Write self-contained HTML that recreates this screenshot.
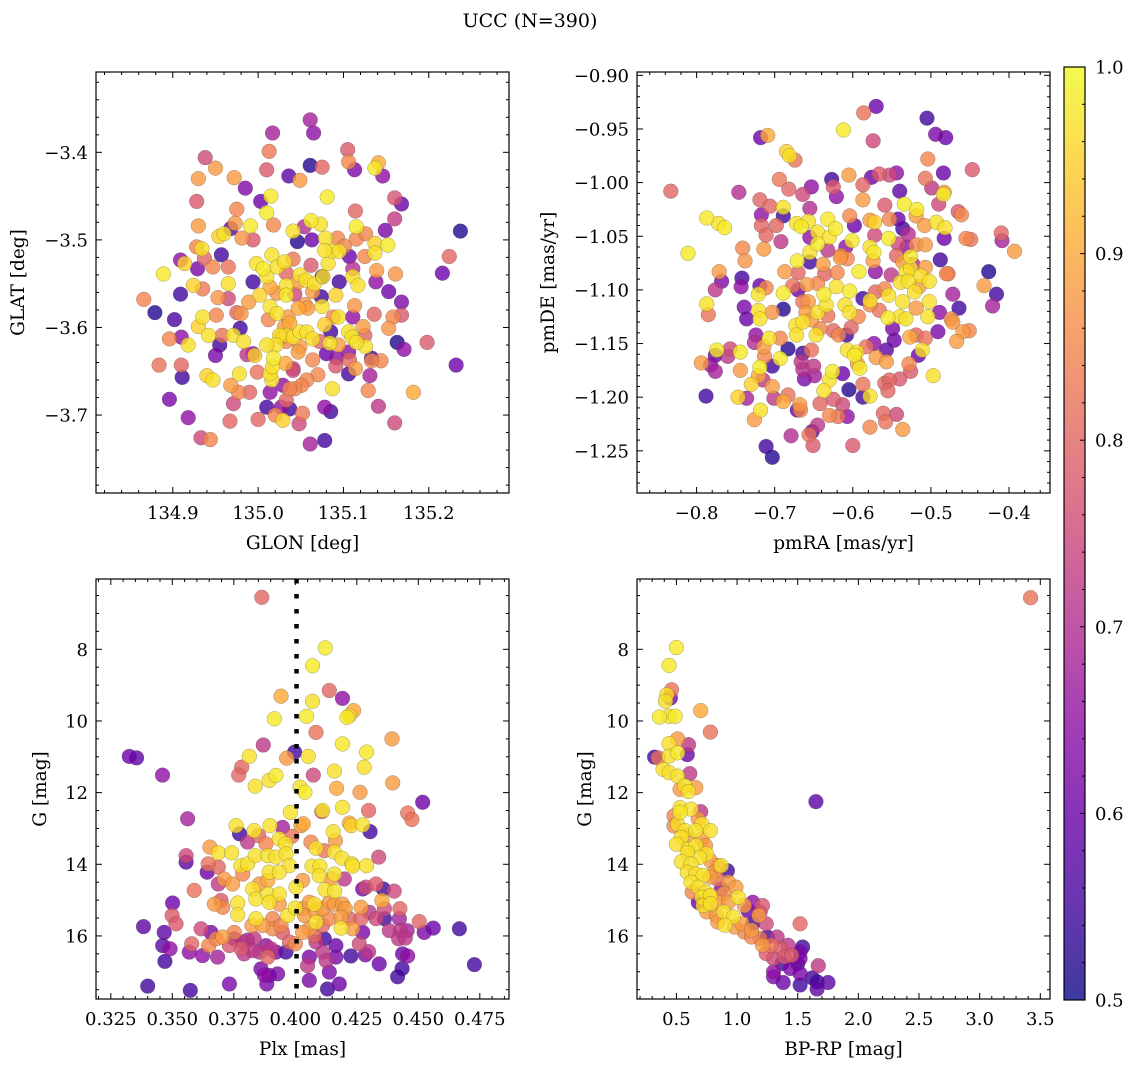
<!DOCTYPE html>
<html><head><meta charset="utf-8">
<style>
html,body{margin:0;padding:0;background:#fff;}
svg{display:block;font-family:"DejaVu Serif","Liberation Serif",serif;}
</style></head>
<body>
<svg id="fig" width="1136" height="1067" viewBox="0 0 1136 1067" xmlns="http://www.w3.org/2000/svg">
<rect width="1136" height="1067" fill="#fff"/>
<text x="530" y="27" font-size="19" text-anchor="middle">UCC (N=390)</text>
</svg>
<script>
// ---------- Panel 1: GLON / GLAT ----------
const glon = [135.061,135.065,135.017,134.938,135.013,135.061,135.075,135.105,135.106,135.113,135.141,135.137,135.146,134.930,134.950,134.972,134.985,135.010,135.036,135.049,135.015,135.081,135.003,134.928,134.975,135.010,135.160,135.168,135.114,135.160,134.930,134.968,134.973,134.991,135.018,134.954,134.960,134.981,134.994,135.041,135.046,135.054,135.062,135.073,135.063,135.079,135.093,135.101,135.115,135.115,135.126,135.137,135.152,135.149,135.237,135.224,135.216,134.909,134.914,134.928,134.934,134.937,134.929,134.957,134.947,134.965,134.889,134.909,134.866,134.879,134.902,134.924,134.935,134.965,134.953,134.965,134.930,134.935,134.951,134.942,134.910,134.896,134.918,134.955,134.958,134.971,134.975,134.983,134.987,134.996,134.979,134.989,134.994,134.998,135.006,135.016,135.010,135.014,135.002,135.014,135.022,135.012,135.022,135.022,135.031,135.041,135.033,135.033,135.047,135.049,135.056,135.062,135.066,135.075,135.064,135.074,135.033,135.043,135.055,135.058,135.047,135.035,135.031,135.037,135.033,135.041,135.049,135.057,135.064,135.049,135.047,135.033,135.025,135.021,135.010,135.018,135.027,135.032,135.041,135.075,135.078,135.088,135.094,135.085,135.072,135.084,135.094,135.106,135.110,135.111,135.113,135.111,135.117,135.111,135.095,135.091,135.076,135.082,135.087,135.078,135.095,135.107,135.125,135.137,135.139,135.138,135.161,135.153,135.168,135.136,135.158,135.168,135.153,135.123,135.125,135.126,135.115,135.106,135.107,135.114,135.133,135.144,135.133,135.163,135.171,135.198,135.232,135.182,135.160,135.141,135.129,135.131,135.106,135.091,135.092,135.080,135.087,135.078,135.085,135.078,135.061,135.070,135.064,135.057,135.051,135.043,135.037,135.041,135.029,135.033,135.027,135.037,135.020,135.029,135.048,135.052,135.010,135.000,135.014,135.016,135.014,135.017,134.999,134.990,134.977,134.978,134.968,134.971,134.967,134.940,134.947,134.950,134.910,134.884,134.911,134.896,134.918,134.933,134.944,134.994,134.980];
const glat = [-3.363,-3.378,-3.378,-3.406,-3.399,-3.415,-3.417,-3.397,-3.411,-3.420,-3.412,-3.418,-3.427,-3.430,-3.418,-3.429,-3.441,-3.420,-3.427,-3.432,-3.450,-3.451,-3.456,-3.456,-3.465,-3.469,-3.452,-3.459,-3.467,-3.476,-3.484,-3.487,-3.481,-3.484,-3.483,-3.496,-3.493,-3.498,-3.500,-3.490,-3.502,-3.485,-3.478,-3.482,-3.500,-3.498,-3.498,-3.507,-3.499,-3.485,-3.493,-3.504,-3.506,-3.489,-3.490,-3.519,-3.538,-3.523,-3.527,-3.508,-3.510,-3.521,-3.533,-3.517,-3.531,-3.531,-3.539,-3.562,-3.568,-3.583,-3.591,-3.552,-3.556,-3.550,-3.566,-3.567,-3.599,-3.588,-3.586,-3.609,-3.611,-3.613,-3.620,-3.620,-3.609,-3.609,-3.583,-3.616,-3.631,-3.632,-3.601,-3.571,-3.548,-3.527,-3.533,-3.517,-3.542,-3.554,-3.563,-3.576,-3.584,-3.591,-3.561,-3.531,-3.525,-3.522,-3.538,-3.552,-3.548,-3.540,-3.546,-3.529,-3.550,-3.542,-3.559,-3.565,-3.563,-3.562,-3.574,-3.578,-3.578,-3.588,-3.599,-3.595,-3.609,-3.611,-3.605,-3.605,-3.613,-3.622,-3.628,-3.616,-3.609,-3.620,-3.620,-3.635,-3.611,-3.641,-3.647,-3.576,-3.597,-3.588,-3.588,-3.605,-3.616,-3.618,-3.620,-3.605,-3.611,-3.588,-3.575,-3.542,-3.552,-3.533,-3.548,-3.563,-3.542,-3.527,-3.513,-3.512,-3.513,-3.519,-3.519,-3.515,-3.535,-3.548,-3.539,-3.559,-3.571,-3.585,-3.588,-3.586,-3.601,-3.599,-3.609,-3.622,-3.617,-3.628,-3.637,-3.647,-3.635,-3.638,-3.638,-3.617,-3.625,-3.617,-3.643,-3.674,-3.709,-3.690,-3.672,-3.655,-3.653,-3.644,-3.635,-3.630,-3.670,-3.691,-3.696,-3.729,-3.733,-3.654,-3.637,-3.660,-3.666,-3.670,-3.670,-3.649,-3.666,-3.683,-3.691,-3.693,-3.700,-3.706,-3.710,-3.698,-3.691,-3.705,-3.674,-3.660,-3.653,-3.645,-3.651,-3.674,-3.674,-3.653,-3.666,-3.687,-3.707,-3.655,-3.660,-3.632,-3.643,-3.643,-3.657,-3.682,-3.703,-3.726,-3.728,-3.630,-3.584];
const prob1 = [.68,.65,.68,.75,.83,.52,.80,.78,.85,.62,.9,.98,.65,.88,.88,.88,.63,.78,.58,.88,.98,.98,.6,.78,.85,.98,.77,.6,.8,.73,.88,.58,.88,.98,.85,.95,.97,.87,.78,.97,.52,.7,.98,.97,.6,.97,.85,.85,.85,.98,.85,.95,.98,.62,.52,.8,.6,.65,.95,.85,.97,.8,.62,.55,.85,.82,.98,.55,.85,.52,.56,.95,.83,.97,.87,.75,.95,.97,.85,.97,.65,.85,.97,.55,.82,.97,.8,.97,.72,.95,.55,.88,.55,.97,.98,.97,.97,.9,.95,.97,.97,.85,.87,.97,.97,.83,.8,.97,.88,.97,.97,.78,.97,.55,.88,.55,.98,.75,.87,.88,.9,.88,.88,.9,.97,.97,.97,.97,.97,.88,.88,.85,.97,.97,.97,.98,.85,.9,.75,.97,.95,.85,.97,.55,.8,.97,.88,.97,.97,.65,.87,.97,.97,.7,.55,.95,.97,.97,.97,.97,.97,.6,.85,.97,.88,.65,.87,.6,.62,.8,.85,.78,.87,.88,.8,.97,.97,.65,.8,.88,.55,.85,.85,.52,.65,.78,.6,.9,.75,.72,.85,.68,.55,.78,.65,.6,.97,.65,.55,.55,.68,.85,.85,.85,.85,.85,.85,.75,.65,.8,.65,.55,.85,.95,.75,.83,.55,.8,.65,.97,.97,.97,.82,.8,.85,.97,.88,.75,.8,.95,.97,.62,.8,.82,.55,.62,.65,.75,.85,.65,.87];

// ---------- Panel 2: pmRA / pmDE ----------
const pmra = [-0.570,-0.586,-0.505,-0.612,-0.494,-0.481,-0.718,-0.709,-0.574,-0.685,-0.681,-0.674,-0.504,-0.447,-0.484,-0.694,-0.605,-0.576,-0.566,-0.553,-0.544,-0.627,-0.625,-0.653,-0.587,-0.507,-0.499,-0.483,-0.484,-0.540,-0.833,-0.746,-0.682,-0.664,-0.621,-0.719,-0.706,-0.689,-0.655,-0.587,-0.559,-0.534,-0.518,-0.490,-0.465,-0.461,-0.717,-0.689,-0.787,-0.772,-0.764,-0.717,-0.698,-0.672,-0.666,-0.657,-0.632,-0.604,-0.598,-0.578,-0.572,-0.553,-0.542,-0.519,-0.493,-0.482,-0.508,-0.536,-0.529,-0.622,-0.645,-0.630,-0.655,-0.711,-0.692,-0.811,-0.741,-0.714,-0.645,-0.632,-0.615,-0.601,-0.609,-0.572,-0.578,-0.554,-0.542,-0.531,-0.519,-0.507,-0.483,-0.455,-0.449,-0.410,-0.409,-0.393,-0.738,-0.671,-0.655,-0.655,-0.638,-0.616,-0.607,-0.574,-0.573,-0.544,-0.526,-0.536,-0.523,-0.507,-0.488,-0.771,-0.768,-0.776,-0.742,-0.743,-0.687,-0.670,-0.636,-0.620,-0.592,-0.571,-0.551,-0.532,-0.526,-0.513,-0.502,-0.480,-0.478,-0.426,-0.432,-0.416,-0.421,-0.719,-0.711,-0.721,-0.689,-0.677,-0.670,-0.659,-0.645,-0.637,-0.621,-0.604,-0.587,-0.578,-0.571,-0.559,-0.554,-0.539,-0.529,-0.521,-0.515,-0.502,-0.472,-0.464,-0.787,-0.785,-0.739,-0.736,-0.721,-0.719,-0.703,-0.689,-0.664,-0.657,-0.645,-0.634,-0.660,-0.610,-0.604,-0.593,-0.578,-0.566,-0.555,-0.540,-0.532,-0.536,-0.519,-0.504,-0.489,-0.474,-0.472,-0.673,-0.664,-0.653,-0.642,-0.632,-0.625,-0.618,-0.602,-0.647,-0.672,-0.608,-0.549,-0.491,-0.459,-0.451,-0.467,-0.507,-0.519,-0.527,-0.724,-0.726,-0.707,-0.693,-0.547,-0.573,-0.583,-0.607,-0.598,-0.595,-0.557,-0.511,-0.516,-0.774,-0.757,-0.744,-0.776,-0.760,-0.714,-0.683,-0.664,-0.653,-0.713,-0.693,-0.794,-0.782,-0.776,-0.744,-0.719,-0.703,-0.666,-0.650,-0.664,-0.626,-0.613,-0.594,-0.591,-0.570,-0.557,-0.528,-0.526,-0.497,-0.721,-0.715,-0.730,-0.703,-0.662,-0.649,-0.630,-0.637,-0.605,-0.587,-0.559,-0.553,-0.540,-0.555,-0.788,-0.747,-0.736,-0.701,-0.689,-0.683,-0.718,-0.726,-0.671,-0.668,-0.667,-0.642,-0.625,-0.613,-0.587,-0.578,-0.630,-0.619,-0.607,-0.561,-0.544,-0.578,-0.558,-0.536,-0.645,-0.652,-0.679,-0.656,-0.651,-0.600,-0.711,-0.703];
const pmde = [-0.929,-0.935,-0.940,-0.951,-0.955,-0.958,-0.958,-0.956,-0.961,-0.971,-0.975,-0.979,-0.978,-0.988,-0.991,-0.997,-0.993,-0.995,-0.992,-0.993,-0.991,-0.997,-1.004,-1.004,-1.002,-0.996,-1.005,-1.009,-1.011,-1.008,-1.008,-1.009,-1.006,-1.011,-1.013,-1.016,-1.022,-1.023,-1.024,-1.016,-1.021,-1.020,-1.025,-1.020,-1.027,-1.030,-1.030,-1.031,-1.033,-1.038,-1.042,-1.040,-1.040,-1.038,-1.041,-1.036,-1.034,-1.031,-1.040,-1.035,-1.037,-1.034,-1.034,-1.031,-1.037,-1.042,-1.040,-1.043,-1.048,-1.043,-1.046,-1.051,-1.051,-1.049,-1.055,-1.066,-1.061,-1.062,-1.057,-1.063,-1.068,-1.054,-1.060,-1.049,-1.060,-1.052,-1.057,-1.060,-1.058,-1.058,-1.052,-1.052,-1.053,-1.047,-1.054,-1.064,-1.073,-1.073,-1.074,-1.065,-1.076,-1.070,-1.071,-1.073,-1.065,-1.068,-1.069,-1.074,-1.076,-1.079,-1.072,-1.083,-1.092,-1.100,-1.089,-1.097,-1.083,-1.084,-1.085,-1.084,-1.083,-1.083,-1.086,-1.083,-1.080,-1.087,-1.092,-1.085,-1.085,-1.083,-1.096,-1.104,-1.115,-1.096,-1.098,-1.104,-1.103,-1.096,-1.100,-1.095,-1.094,-1.104,-1.097,-1.101,-1.108,-1.110,-1.102,-1.099,-1.105,-1.093,-1.092,-1.102,-1.097,-1.111,-1.104,-1.117,-1.113,-1.123,-1.116,-1.127,-1.119,-1.127,-1.121,-1.118,-1.111,-1.111,-1.121,-1.114,-1.121,-1.114,-1.121,-1.125,-1.114,-1.119,-1.126,-1.125,-1.127,-1.111,-1.117,-1.125,-1.121,-1.127,-1.130,-1.133,-1.130,-1.128,-1.136,-1.124,-1.138,-1.142,-1.135,-1.142,-1.142,-1.142,-1.136,-1.139,-1.139,-1.138,-1.148,-1.145,-1.142,-1.144,-1.142,-1.149,-1.145,-1.145,-1.147,-1.150,-1.153,-1.156,-1.161,-1.158,-1.156,-1.156,-1.161,-1.156,-1.155,-1.158,-1.161,-1.162,-1.153,-1.155,-1.159,-1.156,-1.162,-1.164,-1.168,-1.170,-1.176,-1.175,-1.172,-1.171,-1.167,-1.171,-1.174,-1.176,-1.178,-1.169,-1.173,-1.163,-1.167,-1.169,-1.176,-1.180,-1.180,-1.184,-1.188,-1.190,-1.183,-1.180,-1.184,-1.194,-1.193,-1.188,-1.187,-1.184,-1.183,-1.194,-1.199,-1.200,-1.201,-1.201,-1.204,-1.198,-1.212,-1.221,-1.212,-1.207,-1.212,-1.206,-1.202,-1.207,-1.200,-1.199,-1.217,-1.218,-1.218,-1.215,-1.216,-1.228,-1.223,-1.230,-1.226,-1.232,-1.236,-1.235,-1.245,-1.245,-1.246,-1.256];
const prob2 = [.6,.82,.55,.98,.62,.6,.6,.9,.75,.95,.97,.82,.85,.78,.6,.83,.88,.6,.78,.75,.65,.55,.78,.65,.8,.82,.72,.88,.98,.58,.8,.7,.8,.75,.65,.8,.8,.97,.7,.88,.78,.98,.98,.75,.78,.85,.65,.55,.98,.97,.98,.8,.8,.97,.98,.97,.98,.85,.6,.88,.95,.85,.6,.88,.97,.97,.88,.55,.7,.98,.97,.97,.65,.8,.72,.98,.85,.88,.98,.72,.85,.98,.65,.75,.97,.98,.75,.65,.85,.88,.6,.85,.82,.8,.68,.88,.87,.98,.55,.97,.88,.88,.85,.88,.98,.8,.98,.88,.7,.88,.55,.88,.62,.72,.55,.65,.88,.8,.8,.85,.98,.65,.72,.97,.97,.97,.97,.85,.83,.52,.88,.55,.68,.6,.85,.97,.98,.82,.6,.88,.85,.98,.97,.98,.55,.97,.8,.85,.97,.97,.97,.97,.88,.97,.68,.55,.97,.82,.62,.6,.97,.97,.87,.52,.82,.88,.97,.97,.88,.97,.97,.85,.85,.82,.98,.97,.97,.97,.88,.97,.65,.85,.88,.97,.97,.88,.85,.82,.8,.85,.8,.97,.97,.55,.62,.62,.88,.85,.88,.82,.8,.9,.65,.7,.97,.85,.6,.65,.82,.97,.98,.97,.58,.97,.6,.98,.75,.98,.6,.72,.88,.52,.55,.82,.85,.98,.88,.65,.68,.88,.98,.55,.72,.72,.7,.98,.6,.88,.98,.88,.88,.85,.78,.97,.9,.72,.95,.88,.62,.68,.97,.97,.52,.82,.8,.8,.78,.8,.55,.95,.68,.72,.9,.82,.97,.88,.6,.88,.85,.8,.78,.75,.55,.97,.85,.82,.65,.8,.75,.85,.82,.88,.72,.6,.7,.82,.78,.78,.55,.52];

// ---------- Panel 3: Plx / G ----------
const plx = [0.3864,0.4122,0.4070,0.4138,0.3942,0.4192,0.4070,0.4237,0.4220,0.4210,0.3915,0.4046,0.4084,0.4393,0.4192,0.3870,0.3997,0.3965,0.3813,0.4053,0.4290,0.3325,0.3355,0.3460,0.3782,0.3770,0.3894,0.3921,0.3837,0.4073,0.4159,0.4280,0.4019,0.4039,0.4168,0.4263,0.4396,0.4518,0.4108,0.4111,0.4192,0.4298,0.4457,0.4474,0.3980,0.4033,0.3562,0.4220,0.4274,0.4227,0.4304,0.3759,0.3833,0.3897,0.3948,0.3773,0.3806,0.3851,0.3881,0.3935,0.3960,0.3986,0.4023,0.4064,0.4084,0.4118,0.4154,0.4163,0.4159,0.4190,0.4230,0.4290,0.4339,0.3653,0.3687,0.3741,0.3556,0.3556,0.3646,0.3642,0.3687,0.3779,0.3806,0.3786,0.3837,0.3888,0.3921,0.3962,0.3976,0.3894,0.3935,0.3888,0.3854,0.3711,0.3745,0.3687,0.3589,0.4068,0.4100,0.4097,0.4145,0.4159,0.4199,0.4233,0.4030,0.4003,0.3827,0.3840,0.3888,0.3935,0.3894,0.3935,0.4121,0.4160,0.4274,0.4287,0.4328,0.4358,0.4402,0.4352,0.3766,0.3766,0.3671,0.3698,0.3705,0.3501,0.3499,0.3515,0.3383,0.3467,0.3461,0.3491,0.3470,0.3400,0.3573,0.3732,0.3579,0.3569,0.3617,0.3623,0.3684,0.3648,0.3678,0.3705,0.3657,0.3752,0.3752,0.3786,0.3806,0.3779,0.3792,0.3824,0.3840,0.3867,0.3908,0.3908,0.3942,0.3948,0.3969,0.3833,0.3854,0.3881,0.3901,0.3888,0.3921,0.3962,0.3976,0.4000,0.3860,0.3874,0.3894,0.3884,0.3928,0.4000,0.4030,0.4037,0.4057,0.4077,0.4084,0.4111,0.4138,0.4159,0.4192,0.4203,0.4186,0.4138,0.4084,0.4057,0.4030,0.4077,0.4111,0.4186,0.4233,0.4220,0.4267,0.4267,0.4301,0.4328,0.4362,0.4362,0.4425,0.4504,0.4423,0.4382,0.4428,0.4455,0.4420,0.4447,0.4524,0.4561,0.4667,0.4728,0.4436,0.4457,0.4434,0.4416,0.4341,0.4285,0.4298,0.4260,0.4274,0.4226,0.4165,0.4165,0.4138,0.4179,0.4131,0.4057,0.4111,0.4125,0.4057,0.4050,0.4084,0.4118,0.3827,0.3732];
const gmag3 = [6.55,7.96,8.46,9.15,9.31,9.37,9.45,9.71,9.85,9.90,9.94,9.87,10.32,10.50,10.64,10.67,10.87,11.04,10.99,10.99,10.87,10.99,11.03,11.51,11.29,11.51,11.66,11.52,11.82,11.51,11.40,11.29,11.85,11.99,11.88,11.99,11.73,12.27,12.53,12.50,12.41,12.50,12.57,12.75,12.55,12.87,12.73,12.85,12.90,12.92,13.09,12.92,13.06,12.92,12.97,13.15,13.38,13.20,13.43,13.29,13.43,13.22,12.92,13.38,13.55,13.62,13.09,13.34,13.66,13.83,13.99,14.04,13.80,13.52,13.68,13.68,13.76,13.94,13.99,14.22,14.08,14.04,13.99,14.27,13.76,13.76,13.80,13.71,14.04,14.22,14.22,14.45,14.55,14.41,14.55,14.55,14.73,14.05,14.05,14.32,14.41,14.27,14.41,14.05,14.45,14.64,14.69,14.97,14.83,14.83,15.06,15.11,14.71,14.75,14.69,14.64,14.55,14.69,14.75,15.01,15.08,15.41,15.11,15.01,15.20,15.08,15.43,15.66,15.74,15.90,16.27,16.36,16.71,17.40,17.52,17.34,16.22,16.45,15.80,16.55,16.59,16.27,16.08,16.03,15.90,15.90,16.08,16.17,16.12,16.36,16.50,15.71,15.52,15.71,15.52,15.80,15.71,15.90,15.43,16.08,16.45,16.27,16.36,16.59,16.45,16.45,16.17,16.22,16.92,17.09,17.10,17.34,17.06,15.22,15.24,15.43,15.06,15.11,15.34,15.24,15.06,15.11,15.11,15.24,15.48,15.52,15.62,15.80,15.90,15.99,15.71,15.78,15.80,15.52,15.20,15.52,15.34,15.52,15.52,15.24,15.24,15.60,15.52,15.85,15.85,15.85,16.08,16.06,15.90,15.78,15.80,16.80,16.50,16.56,16.91,17.14,16.78,16.53,16.44,16.22,15.90,16.56,16.27,16.59,17.01,17.34,17.48,17.24,16.45,16.69,16.59,16.83,16.17,16.08,16.41,16.27];
const prob3 = [.8,.98,.98,.8,.9,.65,.97,.9,.95,.98,.98,.98,.82,.88,.98,.72,.55,.88,.97,.97,.98,.6,.58,.65,.8,.8,.97,.98,.97,.75,.97,.97,.97,.98,.9,.88,.88,.6,.75,.98,.97,.8,.82,.82,.97,.9,.68,.9,.97,.95,.55,.97,.97,.97,.68,.55,.72,.8,.85,.97,.97,.82,.88,.85,.97,.82,.97,.88,.97,.97,.97,.97,.75,.88,.97,.97,.75,.58,.82,.6,.8,.97,.97,.85,.97,.97,.97,.97,.97,.97,.97,.9,.88,.88,.88,.72,.82,.97,.97,.97,.88,.97,.72,.97,.88,.97,.97,.97,.97,.97,.97,.88,.97,.97,.62,.75,.78,.55,.75,.9,.97,.97,.88,.78,.85,.6,.78,.78,.58,.58,.58,.65,.55,.55,.55,.62,.8,.65,.75,.65,.68,.85,.85,.88,.62,.85,.6,.72,.68,.78,.72,.88,.97,.88,.85,.85,.85,.78,.97,.72,.72,.65,.72,.8,.62,.55,.8,.85,.62,.65,.62,.62,.62,.97,.88,.88,.88,.97,.88,.88,.88,.88,.88,.88,.88,.85,.97,.88,.88,.8,.8,.97,.88,.8,.88,.8,.72,.75,.55,.75,.8,.8,.68,.72,.72,.68,.72,.72,.62,.6,.55,.55,.6,.65,.55,.55,.6,.62,.72,.75,.62,.55,.6,.62,.62,.6,.55,.62,.72,.72,.62,.72,.72,.55,.72,.78];

// ---------- Panel 4: BP-RP / G ----------
const bprp = [0.50,0.44,0.46,0.42,0.45,0.41,0.36,0.44,0.49,0.70,0.78,0.51,0.44,0.60,0.59,0.51,0.44,0.32,0.35,0.39,0.44,0.61,0.51,0.53,0.57,0.60,0.66,1.65,0.70,0.53,0.62,0.48,0.53,0.68,0.48,0.51,0.71,0.78,0.57,0.66,0.54,0.59,0.71,0.50,0.60,0.66,0.74,0.75,0.69,0.59,0.54,0.62,0.78,0.87,0.92,0.81,0.84,0.59,0.66,0.72,0.78,0.84,0.93,0.99,0.62,0.68,0.63,0.74,0.87,0.89,0.71,0.78,1.01,0.68,0.72,0.78,0.84,0.93,1.06,1.13,1.21,1.09,0.75,0.83,0.89,0.97,0.84,0.90,0.98,1.04,1.12,1.18,1.19,1.24,1.52,1.13,1.06,1.12,1.19,1.21,1.25,1.33,1.28,1.36,1.42,1.54,1.52,1.24,1.30,1.39,1.45,1.52,1.37,1.44,1.50,1.30,1.30,1.38,1.52,1.52,1.62,1.66,1.75,1.66,1.67,3.42];
const gmag4 = [7.95,8.45,9.13,9.27,9.36,9.45,9.89,9.87,9.87,9.71,10.31,10.50,10.63,10.66,10.94,10.89,10.98,11.01,11.03,11.35,11.44,11.47,11.54,11.91,11.81,11.97,11.86,12.25,12.53,12.42,12.46,12.65,12.55,12.74,12.93,12.88,12.88,13.06,13.06,13.06,13.25,13.20,13.30,13.44,13.57,13.48,13.48,13.71,13.81,13.67,13.93,13.99,13.90,14.04,14.18,14.22,14.04,14.22,14.27,14.31,14.36,14.41,14.50,14.64,14.50,14.64,14.78,14.78,14.69,14.82,14.92,14.87,14.92,15.06,15.15,15.10,15.06,15.06,15.15,15.06,15.15,15.29,15.33,15.43,15.33,15.47,15.61,15.70,15.75,15.66,15.84,15.43,15.33,15.66,15.66,15.66,15.89,16.03,16.07,16.26,16.03,16.03,16.26,16.35,16.26,16.31,16.44,16.49,16.63,16.58,16.54,16.63,16.77,16.91,16.77,17.00,17.14,17.30,17.05,17.37,17.17,17.28,17.30,17.48,16.83,6.56];
const prob4 = [.98,.98,.82,.97,.62,.97,.98,.97,.98,.9,.82,.88,.97,.72,.6,.98,.97,.55,.82,.97,.97,.72,.97,.88,.97,.97,.88,.58,.72,.97,.97,.85,.98,.88,.85,.97,.97,.97,.97,.97,.97,.88,.88,.97,.97,.97,.88,.97,.97,.97,.97,.97,.88,.97,.55,.88,.82,.97,.97,.97,.88,.82,.88,.88,.97,.97,.85,.97,.65,.88,.97,.97,.97,.6,.97,.97,.88,.88,.88,.65,.78,.6,.88,.88,.97,.97,.88,.97,.88,.88,.88,.88,.72,.75,.8,.55,.85,.85,.82,.88,.55,.72,.82,.78,.72,.55,.62,.78,.75,.78,.78,.62,.55,.62,.55,.65,.62,.6,.62,.55,.55,.55,.58,.58,.72,.82];

// ---------- tick label arrays ----------
const p1XTicks = [134.9, 135.0, 135.1, 135.2];
const p1YTicks = [-3.4, -3.5, -3.6, -3.7];
const p2XTicks = [-0.8, -0.7, -0.6, -0.5, -0.4];
const p2YTicks = [-0.90, -0.95, -1.00, -1.05, -1.10, -1.15, -1.20, -1.25];
const p3XTicks = [0.325, 0.350, 0.375, 0.400, 0.425, 0.450, 0.475];
const gTicks = [8, 10, 12, 14, 16];
const p4XTicks = [0.5, 1.0, 1.5, 2.0, 2.5, 3.0, 3.5];
const cbTicks = [0.5, 0.6, 0.7, 0.8, 0.9, 1.0];
const plxMedian = [0.4005];

const NS = 'http://www.w3.org/2000/svg';
const svg = document.getElementById('fig');
const TICK_FS = 18, LABEL_FS = 18.5;
function mk(tag, attrs, parent) {
  const e = document.createElementNS(NS, tag);
  for (const k in attrs) e.setAttribute(k, attrs[k]);
  (parent || svg).appendChild(e);
  return e;
}
const PL = ['#0d0887','#41049d','#6a00a8','#8f0da4','#b12a90','#cc4778','#e16462','#f2844b','#fca636','#fcce25','#f0f921'];
function hex(h){return [parseInt(h.substr(1,2),16),parseInt(h.substr(3,2),16),parseInt(h.substr(5,2),16)];}
function plasma(v) {
  let t = (v - 0.5) / 0.5; t = Math.max(0, Math.min(1, t));
  const s = t * 10, i = Math.min(9, Math.floor(s)), f = s - i;
  const a = hex(PL[i]), b = hex(PL[i + 1]);
  return 'rgb(' + a.map((c, k) => Math.round(c + (b[k] - c) * f)).join(',') + ')';
}
function fmt(v, d) { const s = Math.abs(v).toFixed(d); return (v < 0 ? '\u2212' : '') + s; }

function panel(cfg) {
  const g = mk('g', {});
  
  
  const {l, t, r, b} = cfg;
  const sx = v => l + (v - cfg.x0) / (cfg.x1 - cfg.x0) * (r - l);
  const sy = v => t + (v - cfg.yt) / (cfg.yb - cfg.yt) * (b - t);
  const n = Math.min(cfg.xs.length, cfg.ys.length, cfg.cs.length);
  const idx = [];
  for (let i = 0; i < n; i++) idx.push(i);
  idx.sort((a, c) => cfg.cs[a] - cfg.cs[c]);
  const pg = mk('g', {}, g);
  
  
  idx.forEach(i => {
    const c = mk('circle', {cx: sx(cfg.xs[i]).toFixed(1), cy: sy(cfg.ys[i]).toFixed(1), r: 7.4, fill: plasma(cfg.cs[i]), 'fill-opacity': 0.8, stroke: '#444', 'stroke-width': 0.4, 'stroke-opacity': 0.6}, pg);
    
    
  });
  if (cfg.vline) {
    cfg.vline.forEach(v => {
      const ln = mk('line', {x1: sx(v), x2: sx(v), y1: t, y2: b, stroke: '#000', 'stroke-width': 4.5, 'stroke-dasharray': '4.5 10.5'}, g);
      
      
    });
  }
  const tg = mk('g', {stroke: '#000', 'stroke-width': 1}, g);
  function minor(a0, a1, step, majors, isX) {
    const k0 = Math.ceil(a0 / step - 1e-9), k1 = Math.floor(a1 / step + 1e-9);
    for (let k = k0; k <= k1; k++) {
      const v = k * step;
      if (majors.some(m => Math.abs(m - v) < step * 0.1)) continue;
      if (isX) { const x = sx(v); mk('line', {x1: x, x2: x, y1: b, y2: b - 3}, tg); mk('line', {x1: x, x2: x, y1: t, y2: t + 3}, tg); }
      else { const y = sy(v); mk('line', {x1: l, x2: l + 3, y1: y, y2: y}, tg); mk('line', {x1: r, x2: r - 3, y1: y, y2: y}, tg); }
    }
  }
  const ya = Math.min(cfg.yt, cfg.yb), yz = Math.max(cfg.yt, cfg.yb);
  minor(cfg.x0, cfg.x1, cfg.xminor, cfg.xticks, true);
  minor(ya, yz, cfg.yminor, cfg.yticks, false);
  cfg.xticks.forEach(v => {
    const x = sx(v);
    mk('line', {x1: x, x2: x, y1: b, y2: b - 6}, tg); mk('line', {x1: x, x2: x, y1: t, y2: t + 6}, tg);
    const tx = mk('text', {x: x, y: b + 26, 'font-size': TICK_FS, 'text-anchor': 'middle'}, g);
    tx.textContent = fmt(v, cfg.xdec);
    
    
  });
  cfg.yticks.forEach(v => {
    const y = sy(v);
    mk('line', {x1: l, x2: l + 6, y1: y, y2: y}, tg); mk('line', {x1: r, x2: r - 6, y1: y, y2: y}, tg);
    const ty = mk('text', {x: l - 8, y: y + 6.5, 'font-size': TICK_FS, 'text-anchor': 'end'}, g);
    ty.textContent = fmt(v, cfg.ydec);
    
    
  });
  const fr = mk('rect', {x: l, y: t, width: r - l, height: b - t, fill: 'none', stroke: '#000', 'stroke-width': 1.2}, g);
  
  
  const xl = mk('text', {x: (l + r) / 2, y: b + 56, 'font-size': LABEL_FS, 'text-anchor': 'middle'}, g);
  xl.textContent = cfg.xlabel;
  
  
  const yl = mk('text', {x: 0, y: 0, 'font-size': LABEL_FS, 'text-anchor': 'middle', transform: 'translate(' + cfg.ylx + ',' + ((t + b) / 2) + ') rotate(-90)'}, g);
  yl.textContent = cfg.ylabel;
  
  
}

panel({name: 'glon-glat-panel', l: 96, r: 509, t: 72, b: 493, x0: 134.810, x1: 135.294, yt: -3.3083, yb: -3.789,
  xs: glon, ys: glat, cs: prob1, xticks: p1XTicks, yticks: p1YTicks, xminor: 0.02, yminor: 0.02, xdec: 1, ydec: 1,
  xlabel: 'GLON [deg]', ylabel: 'GLAT [deg]', ylx: 24});
panel({name: 'pm-panel', l: 637, r: 1050, t: 72, b: 493, x0: -0.8763, x1: -0.3475, yt: -0.8969, yb: -1.2893,
  xs: pmra, ys: pmde, cs: prob2, xticks: p2XTicks, yticks: p2YTicks, xminor: 0.02, yminor: 0.01, xdec: 1, ydec: 2,
  xlabel: 'pmRA [mas/yr]', ylabel: 'pmDE [mas/yr]', ylx: 554});
panel({name: 'plx-panel', l: 96, r: 509, t: 579, b: 999, x0: 0.31898, x1: 0.48687, yt: 6.038, yb: 17.76,
  xs: plx, ys: gmag3, cs: prob3, xticks: p3XTicks, yticks: gTicks, xminor: 0.005, yminor: 0.5, xdec: 3, ydec: 0,
  xlabel: 'Plx [mas]', ylabel: 'G [mag]', ylx: 46, vline: plxMedian});
panel({name: 'cmd-panel', l: 637, r: 1050, t: 579, b: 999, x0: 0.175, x1: 3.58, yt: 6.038, yb: 17.76,
  xs: bprp, ys: gmag4, cs: prob4, xticks: p4XTicks, yticks: gTicks, xminor: 0.1, yminor: 0.5, xdec: 1, ydec: 0,
  xlabel: 'BP-RP [mag]', ylabel: 'G [mag]', ylx: 591});

// ---------- colorbar ----------
(function () {
  const l = 1064, r = 1085, t = 67, b = 1000;
  const defs = mk('defs', {});
  const lg = mk('linearGradient', {id: 'cbg', x1: 0, y1: 1, x2: 0, y2: 0}, defs);
  for (let i = 0; i <= 20; i++) mk('stop', {offset: (i / 20), 'stop-color': plasma(0.5 + i / 40)}, lg);
  const g = mk('g', {});
  
  
  mk('rect', {x: l, y: t, width: r - l, height: b - t, fill: 'url(#cbg)', 'fill-opacity': 0.8}, g);
  const sy = v => b - (v - 0.5) / 0.5 * (b - t);
  for (let k = 25; k <= 50; k++) {
    const v = k * 0.02; const y = sy(v);
    const maj = cbTicks.some(m => Math.abs(m - v) < 0.001);
    mk('line', {x1: r, x2: r - (maj ? 5 : 3), y1: y, y2: y, stroke: '#000', 'stroke-width': 1}, g);
  }
  cbTicks.forEach(v => {
    const tx = mk('text', {x: r + 10, y: sy(v) + 6.5, 'font-size': TICK_FS}, g);
    tx.textContent = v.toFixed(1);
    
    
  });
  mk('rect', {x: l, y: t, width: r - l, height: b - t, fill: 'none', stroke: '#000', 'stroke-width': 1.2}, g);
})();
</script>
</body></html>
